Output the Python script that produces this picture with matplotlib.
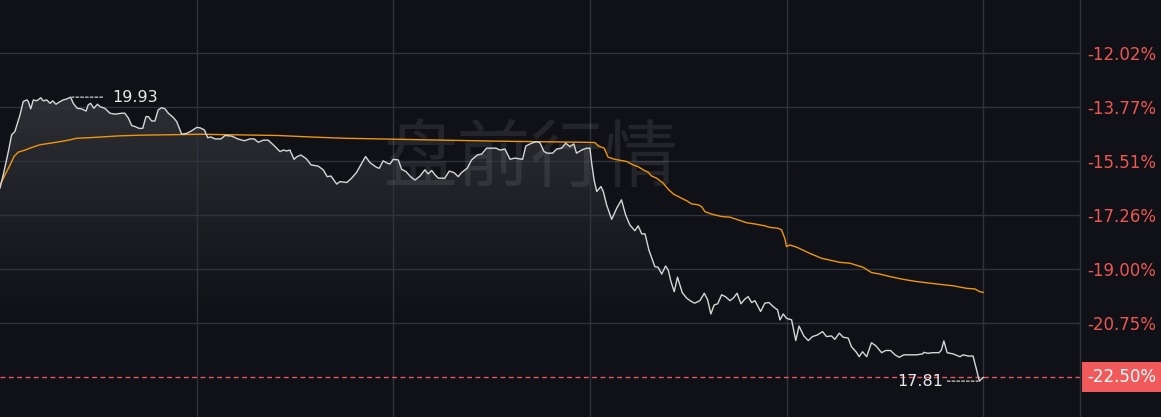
import matplotlib
matplotlib.use("Agg")
import matplotlib.pyplot as plt
import matplotlib.transforms as mtransforms
from matplotlib.patches import Rectangle
from matplotlib.colors import LinearSegmentedColormap
import numpy as np

# ---------------- data (minutes since pre-market open, % change) ----------------
minutes = [0, 1.1, 2.8, 3.9, 5.0, 6.7, 7.8, 9.0, 9.5, 10.3,
           11.2, 12.3, 13.7, 14.5, 15.7, 16.8, 17.7, 18.8, 19.9, 21.2,
           22.4, 23.7, 24.6, 25.9, 27.4, 28.9, 29.6, 30.4, 31.5, 32.7,
           33.6, 35.2, 36.9, 38.6, 40.8, 41.9, 43.1, 44.2, 45.3, 46.7,
           47.9, 49.0, 49.8, 50.9, 52.0, 53.1, 54.3, 55.4, 56.5, 58.2,
           59.3, 61.0, 62.7, 64.3, 66.0, 67.1, 68.6, 69.7, 70.8, 72.2,
           74.2, 75.5, 77.8, 79.8, 82.0, 83.9, 85.3, 86.7, 88.4, 90.0,
           91.7, 94.0, 95.1, 96.2, 97.3, 98.7, 99.6, 101.0, 102.9, 104.4,
           106.8, 108.5, 109.8, 111.1, 113.0, 114.1, 116.4, 118.0, 119.7, 121.0,
           122.7, 124.2, 126.4, 127.3, 128.6, 130.1, 130.9, 132.0, 133.7, 134.8,
           136.3, 137.8, 139.3, 141.0, 142.6, 143.7, 144.9, 146.0, 147.1, 149.3,
           150.8, 152.4, 153.8, 154.9, 156.8, 158.3, 160.2, 161.7, 163.3, 165.0,
           166.5, 167.8, 169.5, 171.2, 172.8, 175.4, 176.5, 178.4, 180.1, 181.2,
           182.6, 183.7, 185.5, 186.8, 188.5, 189.9, 191.3, 192.6, 193.5, 195.2,
           196.9, 198.0, 198.6, 199.4, 200.3, 201.7, 202.5, 203.6, 205.3, 207.0,
           208.6, 210.0, 211.4, 213.1, 214.2, 215.4, 216.5, 217.8, 219.8, 220.9,
           222.1, 223.4, 224.3, 225.2, 226.3, 227.4, 229.0, 230.5, 232.1, 233.2,
           234.9, 236.4, 237.5, 238.6, 239.7, 240.9, 242.2, 243.5, 245.0, 246.1,
           247.4, 248.7, 250.0, 251.1, 252.3, 253.4, 255.3, 256.7, 258.1, 259.5,
           261.0, 261.8, 262.9, 264.0, 265.7, 267.1, 268.2, 269.8, 271.3, 272.7,
           274.3, 276.1, 277.4, 279.1, 280.2, 281.7, 283.0, 284.7, 285.8, 287.3,
           288.4, 289.5, 290.9, 292.5, 294.0, 295.9, 297.3, 298.9, 300.4, 301.8,
           303.4, 305.4, 307.6, 309.7, 310.1, 311.5, 313.2, 315.2, 316.0, 316.8,
           317.9, 319.9, 322.2, 323.3, 325.0, 326.6, 327.8, 328.7, 330.0]

price_pct = [-16.38, -15.95, -15.20, -14.66, -14.55, -14.02, -13.58, -13.53, -13.58, -13.82,
             -13.53, -13.56, -13.46, -13.56, -13.53, -13.64, -13.56, -13.67, -13.60, -13.53,
             -13.50, -13.44, -13.64, -13.80, -13.82, -13.89, -13.69, -13.64, -13.80, -13.67,
             -13.75, -13.80, -13.96, -13.99, -13.96, -13.96, -14.12, -14.36, -14.39, -14.45,
             -14.45, -14.07, -14.07, -14.21, -14.21, -13.85, -13.78, -13.82, -13.96, -14.10,
             -14.23, -14.64, -14.61, -14.53, -14.42, -14.43, -14.50, -14.75, -14.73, -14.79,
             -14.79, -14.68, -14.70, -14.79, -14.85, -14.79, -14.79, -14.90, -14.83, -14.83,
             -14.98, -15.20, -15.15, -15.18, -15.15, -15.45, -15.37, -15.31, -15.44, -15.63,
             -15.67, -15.79, -16.01, -15.99, -16.25, -16.17, -16.20, -16.06, -15.87, -15.65,
             -15.36, -15.56, -15.71, -15.74, -15.50, -15.58, -15.60, -15.45, -15.47, -15.77,
             -15.85, -16.01, -16.12, -15.99, -15.79, -15.92, -15.81, -15.95, -16.06, -16.06,
             -15.83, -15.88, -16.01, -15.88, -15.74, -15.47, -15.31, -15.28, -15.09, -15.09,
             -15.09, -15.15, -15.12, -15.45, -15.41, -15.45, -15.02, -14.93, -14.88, -14.91,
             -15.20, -15.25, -15.25, -15.12, -15.09, -14.93, -15.04, -14.95, -15.25, -15.15,
             -15.09, -15.09, -15.58, -16.12, -16.49, -16.33, -16.49, -16.92, -17.39, -17.03,
             -16.76, -17.25, -17.57, -17.76, -17.60, -17.86, -17.86, -18.38, -18.92, -18.94,
             -19.16, -18.90, -19.03, -19.40, -19.73, -19.26, -19.76, -19.94, -20.05, -20.10,
             -20.02, -19.78, -19.99, -20.45, -20.16, -20.12, -19.83, -19.89, -20.02, -19.94,
             -19.78, -20.12, -19.97, -19.89, -20.08, -20.02, -20.37, -20.10, -20.08, -20.21,
             -20.32, -20.64, -20.45, -20.59, -20.64, -21.31, -20.84, -21.16, -21.31, -21.18,
             -21.13, -21.02, -21.18, -21.16, -21.27, -21.07, -21.20, -21.23, -21.51, -21.67,
             -21.83, -21.67, -21.83, -21.38, -21.48, -21.70, -21.63, -21.63, -21.77, -21.85,
             -21.77, -21.77, -21.77, -21.74, -21.69, -21.72, -21.70, -21.70, -21.61, -21.32,
             -21.70, -21.74, -21.83, -21.77, -21.81, -21.81, -22.26, -22.62, -22.50]

avg_minutes = [0, 1.7, 3.4, 4.7, 6.1, 8.4, 10.6, 13.4, 16.8, 20.1,
               23.5, 25.7, 30.2, 33.6, 40.3, 47.0, 53.7, 60.4, 67.1, 93.3,
               104.6, 115.8, 132.6, 164.4, 196.3, 199.7, 200.8, 202.8, 204.1, 206.4,
               210.3, 212.5, 214.2, 215.9, 217.6, 218.7, 220.4, 222.6, 224.3, 226.0,
               228.8, 230.5, 232.1, 234.3, 235.5, 236.6, 238.8, 242.2, 245.0, 247.8,
               250.6, 253.4, 256.7, 258.4, 261.2, 262.3, 263.4, 264.0, 265.1, 267.4,
               271.8, 275.8, 281.9, 285.3, 289.7, 292.5, 295.3, 298.7, 303.1, 307.6,
               314.4, 320.0, 324.4, 327.2, 328.9, 330.0]

avg_pct = [-16.28, -15.95, -15.63, -15.36, -15.22, -15.15, -15.07, -14.98, -14.93, -14.88,
           -14.82, -14.77, -14.75, -14.73, -14.69, -14.67, -14.66, -14.65, -14.64, -14.68,
           -14.73, -14.77, -14.80, -14.86, -14.90, -14.91, -15.02, -15.09, -15.38, -15.45,
           -15.52, -15.63, -15.69, -15.79, -15.87, -15.99, -16.06, -16.22, -16.42, -16.57,
           -16.71, -16.79, -16.89, -16.92, -16.98, -17.14, -17.22, -17.30, -17.32, -17.41,
           -17.50, -17.54, -17.60, -17.65, -17.68, -17.73, -18.00, -18.27, -18.22, -18.29,
           -18.49, -18.65, -18.78, -18.81, -18.94, -19.11, -19.16, -19.24, -19.33, -19.40,
           -19.48, -19.54, -19.62, -19.64, -19.73, -19.75]

tick_values = [-12.02, -13.77, -15.51, -17.26, -19.00, -20.75]
session_grid_minutes = [66, 132, 198, 264, 330]
current_pct = -22.50
current_label = "-22.50%"
high_label = "19.93"
low_label = "17.81"
watermark = "盘前行情"

# ---------------- style ----------------
BG = "#0f1116"
GRID = "#2e343d"
RED = "#ec5753"
BOXRED = "#f05a5a"
WHITE_LINE = "#d6d6d8"
ORANGE = "#f0950e"
W, H = 1161, 417

fig = plt.figure(figsize=(W / 100, H / 100), dpi=100, facecolor=BG)
ax = fig.add_axes([0, 0, 1080 / W, 1])
ax.set_facecolor(BG)

x_max = 362.5
y_top, y_bot = -10.30, -23.78

# gradient fill under the price line
poly = ax.fill_between(minutes, price_pct, y_bot, color="none", lw=0)
cmap = LinearSegmentedColormap.from_list("g", [BG, "#2d2f34"])
grad = np.linspace(1, 0, 256).reshape(-1, 1)
im = ax.imshow(grad, cmap=cmap, extent=[0, max(minutes), -20.6, -13.4],
               aspect="auto", origin="upper", zorder=1, interpolation="bilinear")
im.set_clip_path(poly.get_paths()[0], transform=ax.transData)

# grid (drawn over the fill)
for v in tick_values:
    ax.axhline(v, color=GRID, lw=1.0, zorder=1.5)
for m in session_grid_minutes:
    ax.axvline(m, color=GRID, lw=1.0, zorder=1.5)

# watermark
ax.text(531 / 1080, 1 - 160 / H, watermark, transform=ax.transAxes,
        fontsize=53, color="white", alpha=0.085, ha="center", va="center",
        family=["Noto Sans CJK SC", "DejaVu Sans"], zorder=2)

# current price dashed line
ax.axhline(current_pct, color="#e8555a", lw=1.0, dashes=(3.5, 2.5), zorder=2)

# lines
ax.plot(avg_minutes, avg_pct, color=ORANGE, lw=1.0, zorder=3)
ax.plot(minutes, price_pct, color=WHITE_LINE, lw=1.0, zorder=4)

# high / low annotations
i_hi = int(np.argmax(price_pct))
i_lo = int(np.argmin(price_pct))
ax.annotate(high_label, xy=(minutes[i_hi], price_pct[i_hi]),
            xytext=(30, 0), textcoords="offset points", ha="left", va="center",
            color="#e8e8e8", fontsize=11.5, zorder=5,
            arrowprops=dict(arrowstyle="-", color="#e8e8e8", lw=0.8,
                            linestyle=(0, (2.5, 1.8)), shrinkA=5, shrinkB=1))
ax.annotate(low_label, xy=(minutes[i_lo], price_pct[i_lo]),
            xytext=(-26, 0), textcoords="offset points", ha="right", va="center",
            color="#e8e8e8", fontsize=11.5, zorder=5,
            arrowprops=dict(arrowstyle="-", color="#e8e8e8", lw=0.8,
                            linestyle=(0, (2.5, 1.8)), shrinkA=1, shrinkB=1))

# axes
ax.set_xlim(0, x_max)
ax.set_ylim(y_bot, y_top)
ax.set_xticks([])
ax.yaxis.tick_right()
ax.set_yticks(tick_values)
ax.set_yticklabels([f"{v:.2f}%" for v in tick_values])
ax.tick_params(axis="y", length=0, pad=5, labelsize=12, labelcolor=RED)
for s in ["top", "left", "bottom"]:
    ax.spines[s].set_visible(False)
ax.spines["right"].set_color(GRID)
ax.spines["right"].set_linewidth(1.0)

# current value box on the right
trans = mtransforms.blended_transform_factory(fig.transFigure, ax.transData)
box_h = 30 / H * (y_top - y_bot)
rect = Rectangle((1082 / W, current_pct - box_h / 2), (W - 1082) / W, box_h,
                 transform=trans, facecolor=BOXRED, edgecolor="none", zorder=10)
fig.add_artist(rect)
fig.text(1087 / W, current_pct, current_label, transform=trans, va="center",
         ha="left", color="white", fontsize=12, zorder=11)

fig.savefig("out.png", dpi=100, facecolor=BG)
